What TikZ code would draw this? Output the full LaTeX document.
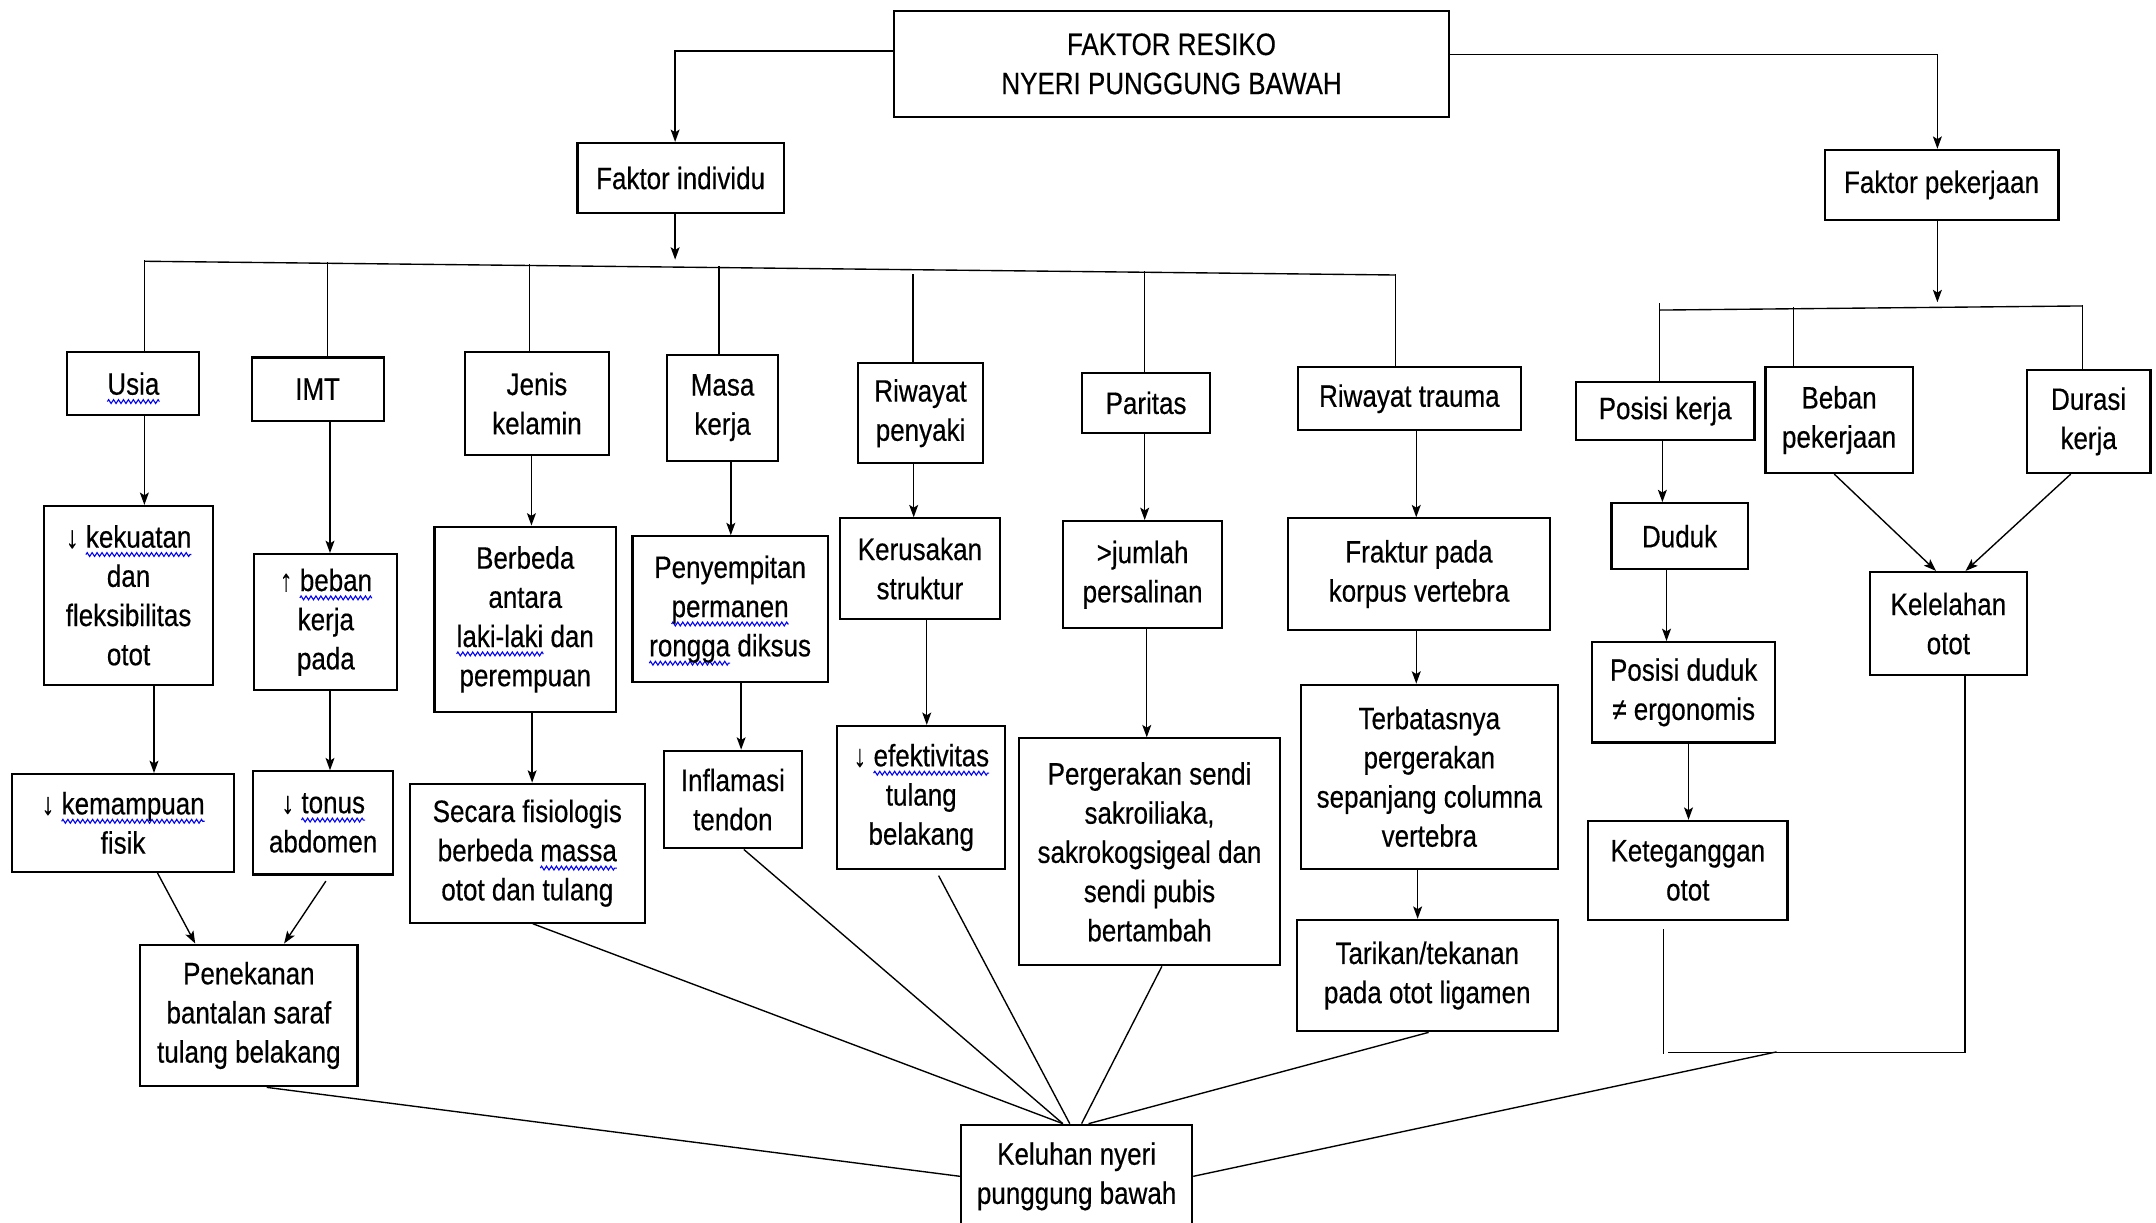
\documentclass[tikz,border=0pt]{standalone}
\usepackage{fontspec}
\setmainfont[FakeStretch=0.84,FakeBold=0.4]{Liberation Sans}
\usetikzlibrary{arrows.meta,calc,decorations.pathmorphing}
\newsavebox\sqwbox
\newlength\sqwlen
\newcommand\sqw[1]{\sbox\sqwbox{#1}\setlength\sqwlen{\wd\sqwbox}\leavevmode\rlap{\tikz[overlay,baseline=0pt]\draw[blue,line width=0.8pt,decorate,decoration={zigzag,amplitude=1.4pt,segment length=3.6pt}] (0pt,-5pt) -- (\sqwlen,-5pt);}\usebox\sqwbox}
\tikzset{
  fbox/.style={draw, line width=1.6pt, inner sep=0pt, align=center, fill=white,
               font=\fontsize{22.5}{28.5}\selectfont},
  sz/.style 2 args={minimum width=#1pt, minimum height=#2pt},
  arr/.style={line width=1pt, -{Stealth[length=9pt,width=6.5pt,inset=2pt]}},
  ln/.style={line width=1pt},
}
\newcommand\varr[3]{\draw[arr] ([xshift=#3pt]#1.south) -- ([xshift=#3pt]#1.south |- #2.north);}
\begin{document}
\begin{tikzpicture}[x=1pt,y=-1pt]
\useasboundingbox[fill=white] (0,0) rectangle (1568,889);

% level 0/1
\node[fbox,sz={404}{77}] (top) at (852,46.5) {FAKTOR RESIKO\\NYERI PUNGGUNG BAWAH};
\node[fbox,sz={150}{51}] (fi) at (495,129.5) {Faktor individu};
\node[fbox,sz={170}{51}] (fp) at (1412,134.5) {Faktor pekerjaan};

% row 1
\node[fbox,sz={96}{46}] (usia) at (97,279) {\sqw{Usia}};
\node[fbox,sz={96}{46}] (imt) at (231,283) {IMT};
\node[fbox,sz={105}{75}] (jk) at (390.5,293.5) {Jenis\\kelamin};
\node[fbox,sz={81}{77}] (mk) at (525.5,296.5) {Masa\\kerja};
\node[fbox,sz={91}{73}] (rp) at (669.5,300.5) {Riwayat\\penyaki};
\node[fbox,sz={93}{44}] (par) at (833.5,293) {Paritas};
\node[fbox,sz={162}{46}] (rt) at (1025,290) {Riwayat trauma};
\node[fbox,sz={130}{42}] (pk) at (1211,299) {Posisi kerja};
\node[fbox,sz={107}{77}] (bp) at (1337.5,305.5) {Beban\\pekerjaan};
\node[fbox,sz={90}{75}] (dk) at (1519,306.5) {Durasi\\kerja};

% row 2
\node[fbox,sz={123}{130}] (kek) at (93.5,433) {↓ \sqw{kekuatan}\\dan\\fleksibilitas\\otot};
\node[fbox,sz={104}{99}] (beb) at (237,452.5) {↑ \sqw{beban}\\kerja\\pada};
\node[fbox,sz={132}{135}] (berb) at (382,450.5) {Berbeda\\antara\\\sqw{laki-laki} dan\\perempuan};
\node[fbox,sz={142}{106}] (peny) at (531,443) {Penyempitan\\\sqw{permanen}\\\sqw{rongga} diksus};
\node[fbox,sz={116}{73}] (ker) at (669,413.5) {Kerusakan\\struktur};
\node[fbox,sz={116}{78}] (jum) at (831,418) {>jumlah\\persalinan};
\node[fbox,sz={190}{81}] (frak) at (1032,417.5) {Fraktur pada\\korpus vertebra};
\node[fbox,sz={99}{48}] (dud) at (1221.5,390) {Duduk};
\node[fbox,sz={114}{75}] (lel) at (1417,453.5) {Kelelahan\\otot};

% row 3
\node[fbox,sz={161}{71}] (kem) at (89.5,598.5) {↓ \sqw{kemampuan}\\fisik};
\node[fbox,sz={102}{75}] (ton) at (235,598.5) {↓ \sqw{tonus}\\abdomen};
\node[fbox,sz={171}{101}] (sec) at (383.5,620.5) {Secara fisiologis\\berbeda \sqw{massa}\\otot dan tulang};
\node[fbox,sz={100}{71}] (inf) at (533,581.5) {Inflamasi\\tendon};
\node[fbox,sz={122}{104}] (efe) at (670,580) {↓ \sqw{efektivitas}\\tulang\\belakang};
\node[fbox,sz={190}{165}] (perg) at (836,619.5) {Pergerakan sendi\\sakroiliaka,\\sakrokogsigeal dan\\sendi pubis\\bertambah};
\node[fbox,sz={187}{134}] (terb) at (1039.5,565) {Terbatasnya\\pergerakan\\sepanjang columna\\vertebra};
\node[fbox,sz={133}{73}] (pos) at (1224.5,503.5) {Posisi duduk\\≠ ergonomis};

% row 4
\node[fbox,sz={158}{103}] (pen) at (181,738.5) {Penekanan\\bantalan saraf\\tulang belakang};
\node[fbox,sz={190}{81}] (tar) at (1038,709.5) {Tarikan/tekanan\\pada otot ligamen};
\node[fbox,sz={145}{72}] (teg) at (1227.5,633) {Keteganggan\\otot};
\node[fbox,sz={168}{75}] (kn) at (783,855.5) {Keluhan nyeri\\punggung bawah};

% top connectors
\draw[arr] ([yshift=9.5pt]top.west) -| ([xshift=-4pt]fi.north);
\draw[arr] ([yshift=7pt]top.east) -| ([xshift=-3pt]fp.north);

% individual bus
\draw[arr] ([xshift=-4pt]fi.south) -- ++(0,33);
\coordinate (busL) at (105,190);
\coordinate (busR) at (1015,200);
\draw[ln] (busL) -- (busR);
\draw[ln] ([xshift=8pt]usia.north) -- ++(0,-66);
\draw[ln] ([xshift=7pt]imt.north) -- ++(0,-68.5);
\draw[ln] ([xshift=-5.5pt]jk.north) -- ++(0,-63);
\draw[ln] ([xshift=-2.5pt]mk.north) -- ++(0,-63.4);
\draw[ln] ([xshift=-5.5pt]rp.north) -- ++(0,-64);
\draw[ln] ([xshift=-1pt]par.north) -- ++(0,-73);
\draw[ln] ([xshift=-10pt]rt.north) -- ++(0,-67);

% work bus
\draw[arr] ([xshift=-3pt]fp.south) -- ++(0,59);
\coordinate (wbL) at (1207,225.5);
\coordinate (wbR) at (1514.5,222.5);
\draw[ln] (wbL) -- (wbR);
\draw[ln] ([xshift=-4pt]pk.north) -- ++(0,-57);
\draw[ln] ([xshift=-33pt]bp.north) -- ++(0,-43);
\draw[ln] ([xshift=-4.5pt]dk.north) -- ++(0,-46.5);

% vertical arrows
\varr{usia}{kek}{8}
\varr{imt}{beb}{9}
\varr{jk}{berb}{-4}
\varr{mk}{peny}{6}
\varr{rp}{ker}{-5}
\varr{par}{jum}{-1}
\varr{rt}{frak}{5}
\varr{pk}{dud}{-2}
\varr{kek}{kem}{18.5}
\varr{beb}{ton}{3}
\varr{berb}{sec}{5}
\varr{peny}{inf}{8}
\varr{ker}{efe}{5}
\varr{jum}{perg}{3}
\varr{frak}{terb}{-2}
\varr{dud}{pos}{-9.5}
\varr{terb}{tar}{-8.5}
\varr{pos}{teg}{3.5}

% diagonal arrows
\draw[arr] ([xshift=25pt]kem.south) -- ([xshift=-39pt]pen.north);
\draw[arr] ([xshift=2pt,yshift=-4pt]ton.south) -- ([xshift=25.6pt]pen.north);
\draw[arr] ([xshift=-3.5pt]bp.south) -- ([xshift=-9pt]lel.north);
\draw[arr] ([xshift=-13pt]dk.south) -- ([xshift=12.5pt]lel.north);

% lines to Keluhan
\draw[ln] ([xshift=13pt]pen.south) -- (kn.west);
\draw[ln] ([xshift=4pt]sec.south) -- ([xshift=-10pt]kn.north);
\draw[ln] ([xshift=8pt]inf.south) -- ([xshift=-10pt]kn.north);
\draw[ln] ([xshift=12.6pt,yshift=-4pt]efe.south) -- ([xshift=-5pt]kn.north);
\draw[ln] ([xshift=9pt]perg.south) -- ([xshift=3.6pt]kn.north);
\draw[ln] ([xshift=1pt]tar.south) -- ([xshift=8.7pt]kn.north);

% right loop
\draw[ln] ([xshift=-17.5pt,yshift=-6pt]teg.south) -- ++(0,91);
\draw[ln] ([xshift=12pt]lel.south) -- ++(0,273.5) -- ++(-216,0);
\coordinate (lm) at (1292,765);
\draw[ln] (lm) -- (kn.east);
\end{tikzpicture}
\end{document}
